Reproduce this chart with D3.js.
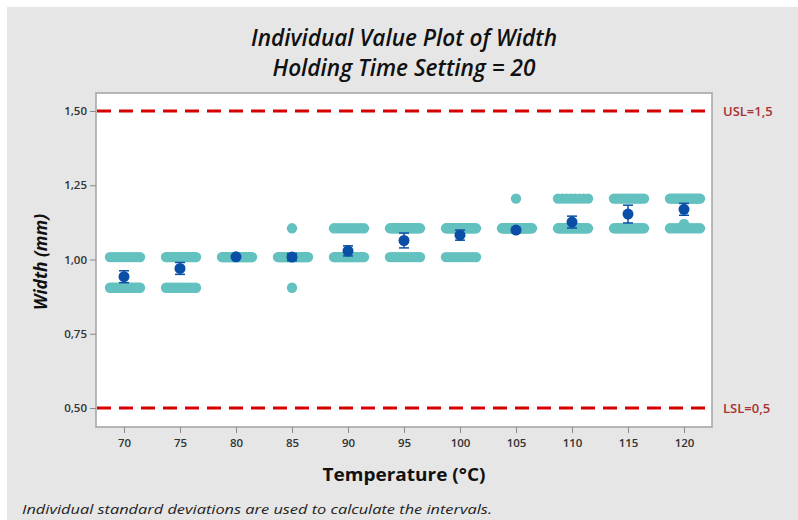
<!DOCTYPE html>
<html>
<head>
<meta charset="utf-8">
<script src="https://cdn.jsdelivr.net/npm/d3@7"></script>
<style>
  html, body { margin: 0; padding: 0; background: #ffffff; }
  svg { display: block; }
  text { font-family: "Open Sans", "Noto Sans", sans-serif; }
</style>
</head>
<body>
<svg id="chart" width="798" height="520"></svg>
<script>
// ---------------- DATA ----------------
const temperatures = ["70", "75", "80", "85", "90", "95", "100", "105", "110", "115", "120"];
// measured width levels (mm) that the individual observations sit on
const widthLevels = [0.905, 1.008, 1.105, 1.205];
// number of observations at each level, per temperature
const countAt0905 = [19, 12, 0, 1, 0, 0, 0, 0, 0, 0, 0];
const countAt1008 = [11, 18, 30, 28, 21, 12, 10, 0, 0, 0, 0];
const countAt1105 = [0, 0, 0, 1, 10, 18, 21, 29, 22, 17, 11];
const countAt1205 = [0, 0, 0, 0, 0, 0, 0, 1, 8, 13, 19];
// additional isolated observations
const extraTemps = ["120"];
const extraValues = [1.12];
// group means and half-widths of the confidence intervals
const meanValues = [0.942, 0.970, 1.009, 1.008, 1.029, 1.064, 1.082, 1.099, 1.126, 1.153, 1.169];
const ciHalfWidths = [0.02, 0.02, 0.0, 0.012, 0.017, 0.025, 0.017, 0.008, 0.02, 0.03, 0.02];
// axis ticks
const yTickValues = [0.5, 0.75, 1.0, 1.25, 1.5];
const yTickLabels = ["0,50", "0,75", "1,00", "1,25", "1,50"];
// specification limits
const specValues = [1.5, 0.5];
const specLabels = ["USL=1,5", "LSL=0,5"];

// ---------------- LAYOUT ----------------
const W = 798, H = 520;
const plot = { left: 96, top: 93, right: 712, bottom: 427 };
const colTeal = "#63c1bf", colMean = "#0b4ea6", colSpec = "#d60000", colSpecText = "#a83234";

const svg = d3.select("#chart");
svg.append("rect").attr("x", 0).attr("y", 0).attr("width", W).attr("height", H).attr("fill", "#ffffff");
svg.append("rect").attr("x", 7).attr("y", 7).attr("width", W - 7).attr("height", H - 7).attr("fill", "#e6e6e6");
svg.append("rect").attr("x", plot.left).attr("y", plot.top)
  .attr("width", plot.right - plot.left).attr("height", plot.bottom - plot.top)
  .attr("fill", "#ffffff").attr("stroke", "#a3a3a3").attr("stroke-width", 1.5);

const x = d3.scalePoint().domain(temperatures).range([plot.left, plot.right]).padding(0.5);
const y = d3.scaleLinear().domain([0.436, 1.5606]).range([plot.bottom, plot.top]);

// axes
const yAxis = d3.axisLeft(y).tickValues(yTickValues)
  .tickFormat((d, i) => yTickLabels[i]).tickSize(6).tickSizeOuter(0).tickPadding(3);
const gy = svg.append("g").attr("transform", `translate(${plot.left},0)`).call(yAxis);
gy.select(".domain").remove();
gy.selectAll(".tick line").attr("stroke", "#8a8a8a");
gy.selectAll(".tick text").attr("fill", "#333").style("font-size", "11.5px").style("font-weight", 600);

const xAxis = d3.axisBottom(x).tickSize(6).tickSizeOuter(0).tickPadding(6);
const gx = svg.append("g").attr("transform", `translate(0,${plot.bottom})`).call(xAxis);
gx.select(".domain").remove();
gx.selectAll(".tick line").attr("stroke", "#8a8a8a");
gx.selectAll(".tick text").attr("fill", "#333").style("font-size", "11.5px").style("font-weight", 600);

// spec lines
const specG = svg.append("g");
specValues.forEach((v, i) => {
  specG.append("line").attr("x1", plot.left + 1).attr("x2", plot.right)
    .attr("y1", y(v)).attr("y2", y(v))
    .attr("stroke", colSpec).attr("stroke-width", 3).attr("stroke-dasharray", "14 8");
  specG.append("text").attr("x", plot.right + 11).attr("y", y(v) + 5)
    .attr("fill", colSpecText).style("font-size", "13px").style("font-weight", 600).text(specLabels[i]);
});

// individual values, spread horizontally across the group's band
const points = [];
const countArrays = [countAt0905, countAt1008, countAt1105, countAt1205];
temperatures.forEach((t, gi) => {
  countArrays.forEach((arr, li) => {
    const n = arr[gi];
    for (let k = 0; k < n; k++) {
      const off = n === 1 ? 0 : -14 + 30 * k / (n - 1);
      points.push({ t, v: widthLevels[li], off });
    }
  });
});
extraTemps.forEach((t, i) => points.push({ t, v: extraValues[i], off: 0 }));

svg.append("g").selectAll("circle").data(points).join("circle")
  .attr("cx", d => x(d.t) + d.off).attr("cy", d => y(d.v)).attr("r", 5.2)
  .attr("fill", colTeal);

// confidence intervals and means
const ciG = svg.append("g").attr("stroke", colMean).attr("stroke-width", 1.5);
temperatures.forEach((t, i) => {
  const cx = x(t), lo = y(meanValues[i] - ciHalfWidths[i]), hi = y(meanValues[i] + ciHalfWidths[i]);
  if (ciHalfWidths[i] > 0) {
    ciG.append("line").attr("x1", cx).attr("x2", cx).attr("y1", lo).attr("y2", hi);
    ciG.append("line").attr("x1", cx - 5).attr("x2", cx + 5).attr("y1", lo).attr("y2", lo);
    ciG.append("line").attr("x1", cx - 5).attr("x2", cx + 5).attr("y1", hi).attr("y2", hi);
  }
});
svg.append("g").selectAll("circle").data(temperatures).join("circle")
  .attr("cx", d => x(d)).attr("cy", (d, i) => y(meanValues[i])).attr("r", 5.5)
  .attr("fill", colMean);

// titles and labels
svg.append("text").attr("x", 404).attr("y", 46).attr("text-anchor", "middle")
  .attr("textLength", 306).attr("lengthAdjust", "spacingAndGlyphs")
  .style("font-size", "24px").style("font-style", "italic").style("font-weight", 600).attr("fill", "#111")
  .text("Individual Value Plot of Width");
svg.append("text").attr("x", 404).attr("y", 76).attr("text-anchor", "middle")
  .attr("textLength", 263).attr("lengthAdjust", "spacingAndGlyphs")
  .style("font-size", "24px").style("font-style", "italic").style("font-weight", 600).attr("fill", "#111")
  .text("Holding Time Setting = 20");

svg.append("text").attr("transform", "translate(47,262) rotate(-90)").attr("text-anchor", "middle")
  .attr("textLength", 96).attr("lengthAdjust", "spacingAndGlyphs")
  .style("font-size", "17px").style("font-style", "italic").style("font-weight", 700).attr("fill", "#111")
  .text("Width (mm)");

svg.append("text").attr("x", 404).attr("y", 481).attr("text-anchor", "middle")
  .attr("textLength", 163).attr("lengthAdjust", "spacingAndGlyphs")
  .style("font-size", "17px").style("font-weight", 700).attr("fill", "#111")
  .text("Temperature (°C)");

svg.append("text").attr("x", 22).attr("y", 514)
  .attr("textLength", 470).attr("lengthAdjust", "spacingAndGlyphs")
  .style("font-size", "13px").style("font-style", "italic").attr("fill", "#222")
  .text("Individual standard deviations are used to calculate the intervals.");
</script>
</body>
</html>
